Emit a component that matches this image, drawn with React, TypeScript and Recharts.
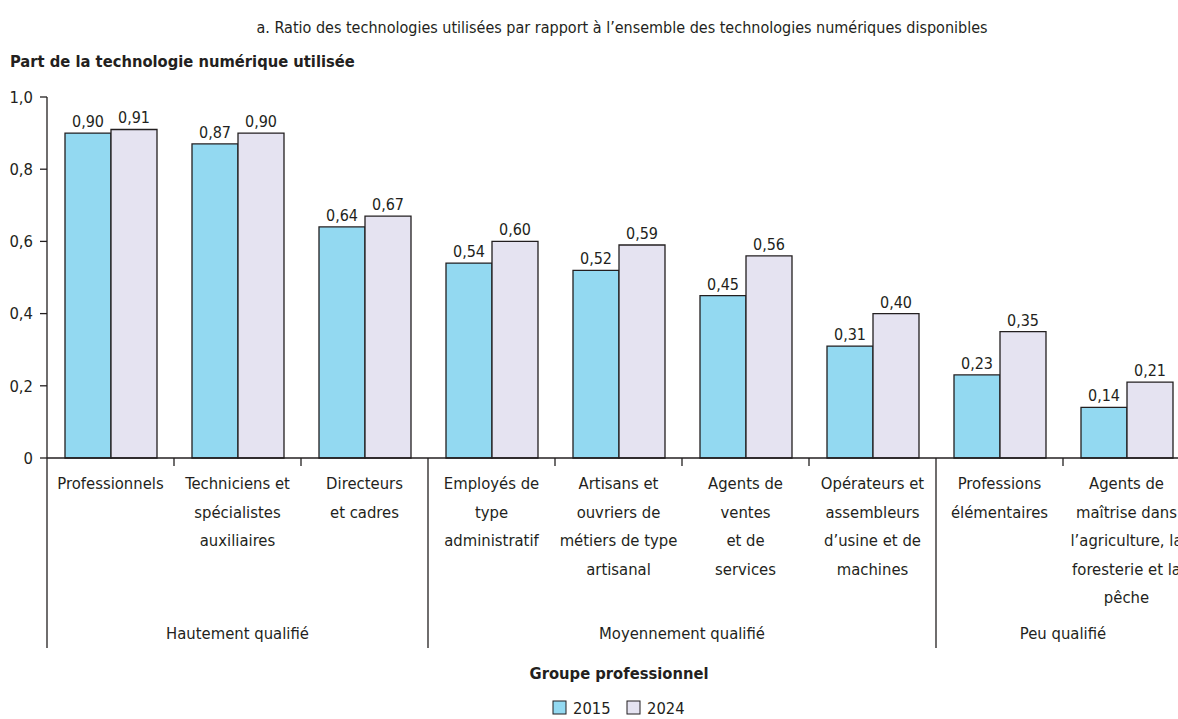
import React from 'react';
import { BarChart, Bar, XAxis, YAxis, LabelList } from 'recharts';

const FONT = "'DejaVu Sans Condensed', 'Liberation Sans', sans-serif";
const INK = '#231f20';

const categories = [
  ['Professionnels'],
  ['Techniciens et', 'spécialistes', 'auxiliaires'],
  ['Directeurs', 'et cadres'],
  ['Employés de', 'type', 'administratif'],
  ['Artisans et', 'ouvriers de', 'métiers de type', 'artisanal'],
  ['Agents de', 'ventes', 'et de', 'services'],
  ['Opérateurs et', 'assembleurs', 'd’usine et de', 'machines'],
  ['Professions', 'élémentaires'],
  ['Agents de', 'maîtrise dans', 'l’agriculture, la', 'foresterie et la', 'pêche'],
];
const values2015 = [0.9, 0.87, 0.64, 0.54, 0.52, 0.45, 0.31, 0.23, 0.14];
const values2024 = [0.91, 0.9, 0.67, 0.6, 0.59, 0.56, 0.4, 0.35, 0.21];
const groupLabels = ['Hautement qualifié', 'Moyennement qualifié', 'Peu qualifié'];
const groupStarts = [0, 3, 7];
const groupSizes = [3, 4, 2];
const yTicks = [0, 0.2, 0.4, 0.6, 0.8, 1.0];
const seriesNames = ['2015', '2024'];
const seriesColors = ['#93d9f1', '#e5e3f1'];

const title = 'a. Ratio des technologies utilisées par rapport à l’ensemble des technologies numériques disponibles';
const yTitle = 'Part de la technologie numérique utilisée';
const xTitle = 'Groupe professionnel';

// layout
const W = 1200;
const H = 719;
const PLOT_LEFT = 47;
const PLOT_RIGHT = 1190;
const PLOT_TOP = 97;
const PLOT_BOTTOM = 458;
const X_AXIS_H = 200;
const BAND = (PLOT_RIGHT - PLOT_LEFT) / categories.length;
const FS = 16.5;

const data = categories.map((c, i) => ({
  name: String(i),
  v2015: values2015[i],
  v2024: values2024[i],
}));

const fmt = (v: number) => v.toFixed(2).replace('.', ',');
const fmtTick = (v: number) => (v === 0 ? '0' : v.toFixed(1).replace('.', ','));

function CategoryTick(props: any) {
  const { x, index } = props;
  const lines = categories[index] || [];
  const left = x - BAND / 2;
  const gi = groupStarts.indexOf(index);
  return (
    <g>
      {gi >= 0 ? (
        <line x1={left} x2={left} y1={PLOT_BOTTOM} y2={648} stroke={INK} strokeWidth={1.3} />
      ) : (
        <line x1={left} x2={left} y1={PLOT_BOTTOM} y2={466} stroke={INK} strokeWidth={1.3} />
      )}
      {lines.map((l: string, i: number) => (
        <text
          key={i}
          x={x}
          y={489 + i * 28.6}
          textAnchor="middle"
          fontSize={FS}
          fontFamily={FONT}
          fill={INK}
        >
          {l}
        </text>
      ))}
      {gi >= 0 && (
        <text
          x={left + (groupSizes[gi] * BAND) / 2}
          y={639}
          textAnchor="middle"
          fontSize={FS}
          fontFamily={FONT}
          fill={INK}
        >
          {groupLabels[gi]}
        </text>
      )}
    </g>
  );
}

export default function App() {
  return (
    <div
      style={{
        position: 'absolute',
        left: 0,
        top: 0,
        width: 1178,
        height: H,
        overflow: 'hidden',
        background: '#fff',
        fontFamily: FONT,
      }}
    >
      <BarChart
        width={W}
        height={H}
        data={data}
        margin={{ top: PLOT_TOP, right: W - PLOT_RIGHT, bottom: H - PLOT_BOTTOM - X_AXIS_H, left: 0 }}
        barCategoryGap={18}
        barGap={0}
      >
        <XAxis
          dataKey="name"
          height={X_AXIS_H}
          interval={0}
          tickLine={false}
          axisLine={{ stroke: INK, strokeWidth: 1.3 }}
          tick={<CategoryTick />}
        />
        <YAxis
          width={PLOT_LEFT}
          domain={[0, 1]}
          ticks={yTicks}
          tickFormatter={fmtTick}
          tickSize={7}
          tickMargin={7}
          axisLine={{ stroke: INK, strokeWidth: 1.3 }}
          tickLine={{ stroke: INK, strokeWidth: 1.3 }}
          tick={{ fill: INK, fontSize: FS, fontFamily: FONT }}
        />
        <Bar dataKey="v2015" fill={seriesColors[0]} stroke={INK} strokeWidth={1.3} isAnimationActive={false}>
          <LabelList dataKey="v2015" position="top" offset={6} formatter={(v: any) => fmt(Number(v))} fill={INK} fontSize={16} fontFamily={FONT} />
        </Bar>
        <Bar dataKey="v2024" fill={seriesColors[1]} stroke={INK} strokeWidth={1.3} isAnimationActive={false}>
          <LabelList dataKey="v2024" position="top" offset={6} formatter={(v: any) => fmt(Number(v))} fill={INK} fontSize={16} fontFamily={FONT} />
        </Bar>
      </BarChart>
      <svg
        width={1178}
        height={H}
        style={{ position: 'absolute', left: 0, top: 0, pointerEvents: 'none' }}
      >
        <text x={622} y={33} textAnchor="middle" fontSize={16} fontFamily={FONT} fill={INK}>
          {title}
        </text>
        <text x={10} y={67} fontSize={16.4} fontWeight="bold" fontFamily={FONT} fill={INK}>
          {yTitle}
        </text>
        <text x={619} y={679} textAnchor="middle" fontSize={16.4} fontWeight="bold" fontFamily={FONT} fill={INK}>
          {xTitle}
        </text>
        {seriesNames.map((n, i) => (
          <g key={n} transform={`translate(${553 + i * 74}, 0)`}>
            <rect x={0} y={701} width={13} height={13} fill={seriesColors[i]} stroke={INK} strokeWidth={1} />
            <text x={20} y={714} fontSize={16.4} fontFamily={FONT} fill={INK}>
              {n}
            </text>
          </g>
        ))}
      </svg>
    </div>
  );
}
